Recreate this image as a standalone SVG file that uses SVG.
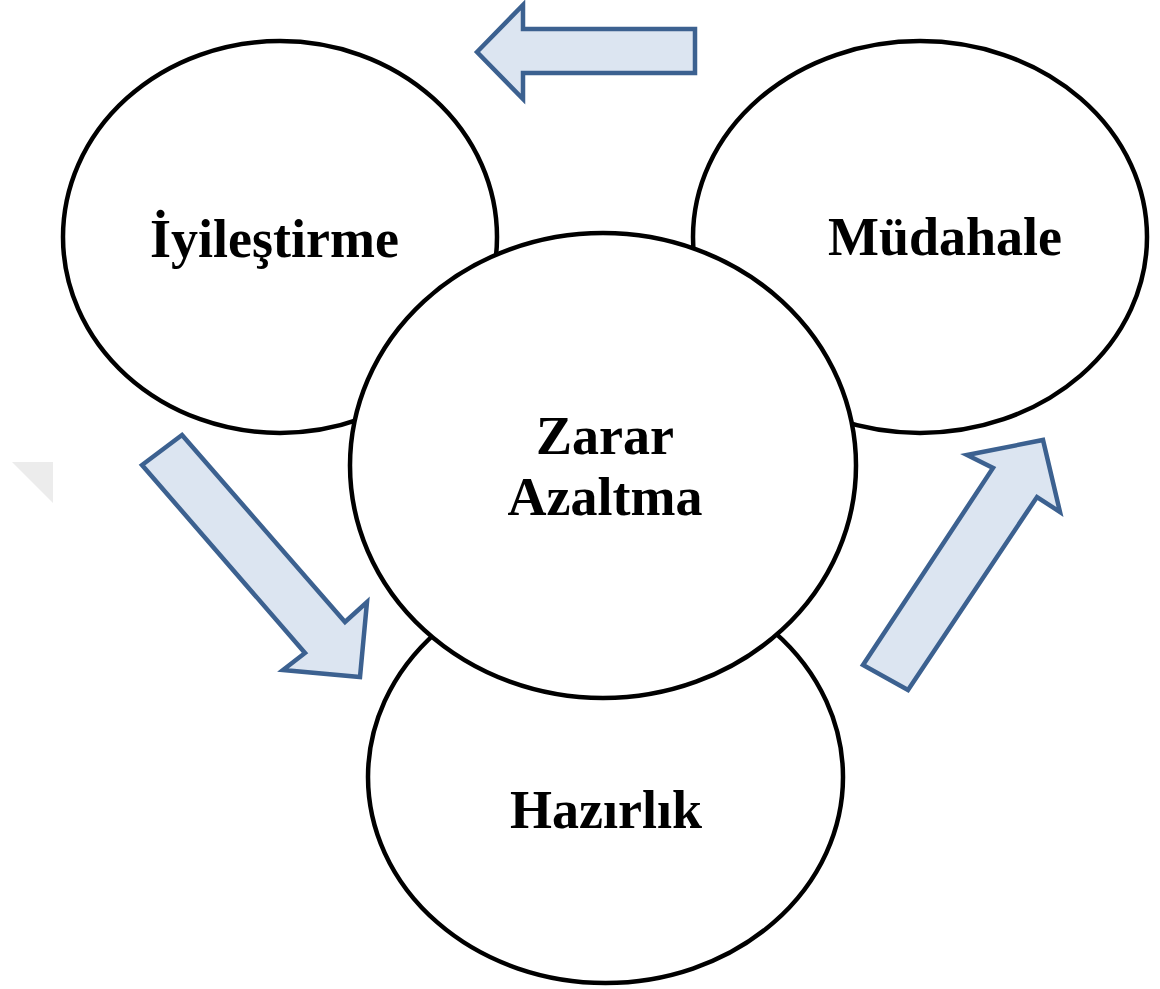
<svg xmlns="http://www.w3.org/2000/svg" width="1160" height="989" viewBox="0 0 1160 989">
<style>
.node{fill:#ffffff;stroke:#000000;stroke-width:4.5}
.lbl{font-family:"Liberation Serif","Times New Roman",serif;font-weight:bold;font-size:54px;fill:#000000;text-anchor:middle}
.arrow{fill:#dce5f1;stroke:#3c6190;stroke-width:4.5;stroke-linejoin:miter}
</style>
<rect width="1160" height="989" fill="#ffffff"/>
<polygon points="12,462 53,462 53,503" fill="#ececec"/>
<g id="iyilestirme">
<ellipse class="node" cx="280" cy="237" rx="217" ry="196"/>
<text class="lbl" x="274.5" y="257">İyileştirme</text>
</g>
<g id="mudahale">
<ellipse class="node" cx="920" cy="237" rx="227" ry="196"/>
<text class="lbl" x="945" y="255">Müdahale</text>
</g>
<g id="hazirlik">
<ellipse class="node" cx="605.5" cy="777" rx="237.5" ry="206"/>
<text class="lbl" x="606" y="828">Hazırlık</text>
</g>
<g id="zarar-azaltma">
<ellipse class="node" cx="603" cy="465.5" rx="253" ry="232.5"/>
<text class="lbl" x="605" y="454">Zarar</text>
<text class="lbl" x="605" y="515">Azaltma</text>
</g>
<g id="connectors">
<polygon class="arrow" points="477,52 523,5 523,29 695,29 695,73 523,73 523,99"/>
<polygon class="arrow" points="182,435 345,622 367,602 360,677 283,670 305,653 142,465"/>
<polygon class="arrow" points="863,665 993,468 967,455 1043,440 1060,512 1037,497 908,690"/>
</g>
</svg>
